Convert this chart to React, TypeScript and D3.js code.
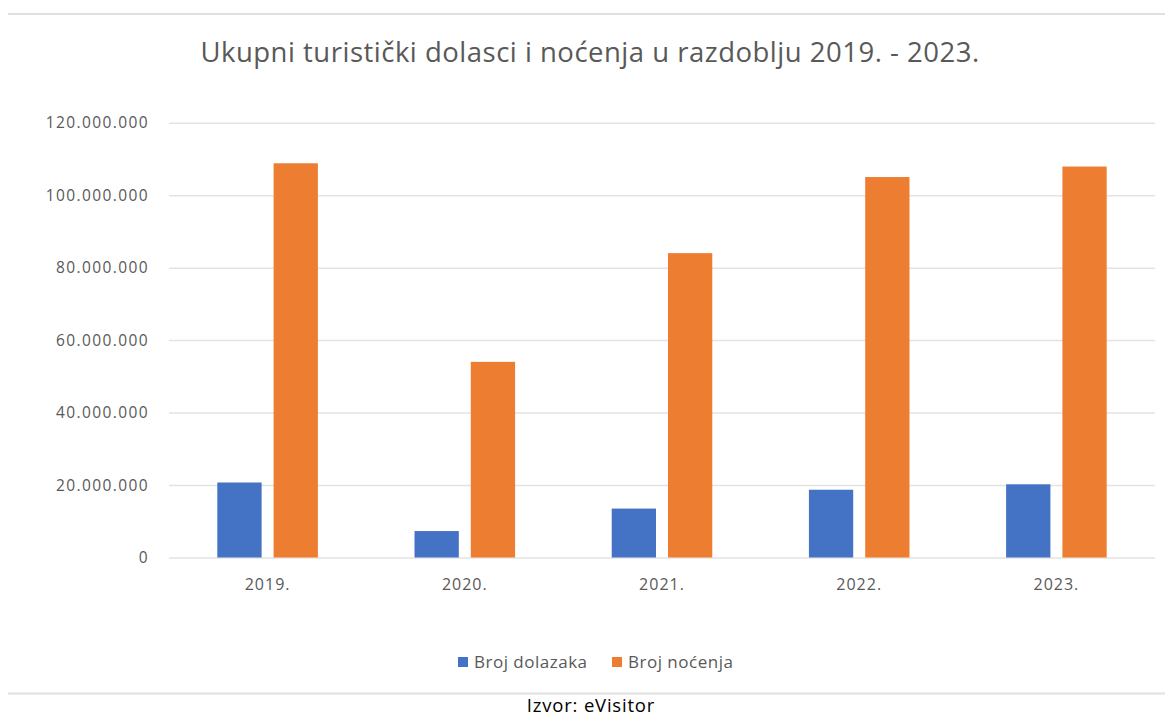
import {useEffect, useRef} from "react";
import * as d3 from "d3";

const categories = ["2019.", "2020.", "2021.", "2022.", "2023."];
const seriesNames = ["Broj dolazaka", "Broj noćenja"];
const arrivals = [20700000, 7300000, 13500000, 18700000, 20200000];
const nights = [108800000, 54000000, 84000000, 105000000, 107900000];
const yTicks = [0, 20000000, 40000000, 60000000, 80000000, 100000000, 120000000];
const colors = ["#4472C4", "#ED7D31"];
const title = "Ukupni turistički dolasci i noćenja u razdoblju 2019. - 2023.";
const source = "Izvor: eVisitor";

export default function App() {
    const ref = useRef<SVGSVGElement | null>(null);

    useEffect(() => {
        const el = ref.current;
        if(!el) return;
        const svg = d3.select(el);
        svg.selectAll("*").remove();

        const width = 1165;
        const margin = {top: 122.7, right: 10, bottom: 160.5, left: 169};
        const height = 718;
        const font = "'Open Sans', sans-serif";
        const grey = "#595959";

        // frame lines, top and above source
        svg.append("line")
            .attr("x1", 8).attr("x2", width).attr("y1", 14).attr("y2", 14)
            .attr("stroke", "#e0e0e0").attr("stroke-width", 2);
        svg.append("line")
            .attr("x1", 8).attr("x2", width).attr("y1", 693.5).attr("y2", 693.5)
            .attr("stroke", "#e0e0e0").attr("stroke-width", 2);

        svg.append("text")
            .attr("x", 590).attr("y", 62)
            .attr("text-anchor", "middle")
            .attr("font-family", font)
            .attr("font-size", 27.5)
            .attr("letter-spacing", 0.5)
            .attr("fill", grey)
            .text(title);

        const x0 = d3.scaleBand<string>()
            .domain(categories)
            .range([margin.left, width - margin.right])
            .paddingInner(0.49)
            .paddingOuter(0.245);

        const x1 = d3.scaleBand<string>()
            .domain(seriesNames)
            .range([0, x0.bandwidth()])
            .paddingInner(0.213);

        const y = d3.scaleLinear()
            .domain([0, 120000000])
            .range([height - margin.bottom, margin.top]);

        const fmt = (v: number) => d3.format(",")(v).replace(/,/g, ".");

        // gridlines + y labels
        svg.append("g")
            .attr("transform", `translate(${margin.left},0)`)
            .call(d3.axisLeft(y).tickValues(yTicks).tickFormat((v) => fmt(+v))
                .tickSize(-(width - margin.right - margin.left)).tickPadding(20))
            .call((g) => g.select(".domain").remove())
            .call((g) => g.selectAll("line").attr("stroke", "#e3e3e3").attr("stroke-width", 1.5))
            .call((g) => g.selectAll("text")
                .attr("fill", grey)
                .attr("font-size", 15.5)
                .attr("letter-spacing", 1.4)
                .attr("font-family", font));

        // x labels
        svg.append("g")
            .attr("transform", `translate(0,${height - margin.bottom})`)
            .call(d3.axisBottom(x0).tickSize(0).tickPadding(21))
            .call((g) => g.select(".domain").remove())
            .call((g) => g.selectAll("text")
                .attr("fill", grey)
                .attr("font-size", 16)
                .attr("letter-spacing", 1)
                .attr("font-family", font));

        const rows = categories.map((c, i) => ({cat: c, vals: [arrivals[i], nights[i]]}));

        svg.append("g")
            .selectAll("g")
            .data(rows)
            .join("g")
            .attr("transform", (d) => `translate(${x0(d.cat)},0)`)
            .selectAll("rect")
            .data((d) => d.vals.map((v, k) => ({key: seriesNames[k], v, k})))
            .join("rect")
            .attr("x", (d) => x1(d.key)!)
            .attr("width", x1.bandwidth())
            .attr("y", (d) => y(d.v))
            .attr("height", (d) => y(0) - y(d.v))
            .attr("fill", (d) => colors[d.k]);

        // legend
        const legend = svg.append("g").attr("font-family", font).attr("font-size", 17).attr("letter-spacing", 0.5);
        const legendX = [458, 612];
        seriesNames.forEach((name, k) => {
            legend.append("rect")
                .attr("x", legendX[k]).attr("y", 657)
                .attr("width", 10).attr("height", 10)
                .attr("fill", colors[k]);
            legend.append("text")
                .attr("x", legendX[k] + 16).attr("y", 668)
                .attr("fill", grey)
                .text(name);
        });

        svg.append("text")
            .attr("x", 591).attr("y", 712)
            .attr("text-anchor", "middle")
            .attr("font-family", font)
            .attr("font-size", 18.5)
            .attr("letter-spacing", 0.8)
            .attr("fill", "#000")
            .text(source);
    }, []);

    return (
        <svg
            ref={ref}
            width={1165}
            height={718}
            style={{position: "absolute", left: 0, top: 0, background: "#fff"}}
        />
    );
}
